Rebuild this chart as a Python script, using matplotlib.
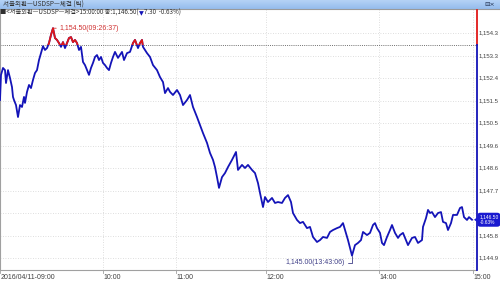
import matplotlib
matplotlib.use("Agg")
import matplotlib.pyplot as plt
from matplotlib.patches import Rectangle, FancyBboxPatch, Polygon
import numpy as np

# ---- data ----
tick_no = [0, 10, 30, 50, 60, 80, 100, 120, 130, 140, 160, 180, 200, 220, 240, 250, 270, 290, 310, 330,
           350, 370, 390, 410, 430, 450, 470, 490, 510, 530, 550, 570, 590, 610, 630, 650, 670, 690, 710, 730,
           750, 770, 790, 810, 830, 850, 870, 890, 910, 930, 950, 970, 990, 1010, 1030, 1050, 1070, 1090, 1110, 1130,
           1150, 1180,
           1220, 1240, 1270, 1300, 1330, 1350, 1380, 1400, 1420, 1430, 1470, 1500, 1530, 1570, 1600, 1630, 1650, 1680,
           1700, 1730, 1770, 1800, 1830, 1870, 1900, 1930, 1970, 2000, 2030, 2070, 2100, 2130, 2150, 2170, 2190, 2220,
           2250, 2280, 2320, 2360,
           2380, 2420, 2450, 2480, 2520, 2550, 2580, 2600, 2630, 2650, 2680, 2720, 2750, 2780, 2820, 2850, 2880, 2910,
           2930, 2970, 3000, 3030, 3070, 3100, 3130, 3170, 3200, 3230, 3270, 3300, 3330, 3370, 3400, 3430, 3450, 3480,
           3510, 3520,
           3550, 3580, 3610, 3630, 3670, 3700, 3730, 3750, 3770, 3800, 3820, 3840, 3870, 3900, 3920, 3950, 3980, 4000,
           4030, 4060, 4080, 4120, 4150, 4180, 4220, 4230, 4260, 4280, 4300, 4320, 4350, 4380, 4410, 4430, 4460, 4480,
           4510, 4530, 4570, 4600, 4620, 4640, 4670, 4690, 4720]
price = [1151.50, 1152.55, 1152.84, 1152.75, 1152.21, 1152.75, 1152.42, 1152.04, 1151.63, 1151.50, 1151.29, 1150.79,
         1151.29, 1151.21, 1151.63, 1151.38, 1151.84, 1152.13, 1152.00, 1152.34, 1152.63, 1152.75, 1153.17, 1153.46,
         1153.75, 1153.59, 1153.67, 1153.88, 1154.22, 1154.50, 1154.09, 1154.01, 1153.88, 1153.72, 1153.92, 1153.67,
         1153.88, 1154.09, 1154.13, 1153.92, 1154.01, 1153.88, 1153.59, 1153.72, 1153.09, 1152.96, 1152.75, 1152.55,
         1152.84, 1153.05, 1153.30, 1153.38, 1153.17, 1153.30, 1153.05, 1152.96, 1152.84, 1152.75, 1153.05, 1153.30,
         1153.51, 1153.26,
         1153.51, 1153.17, 1153.46, 1153.51, 1153.88, 1154.01, 1153.67, 1153.88, 1154.01, 1153.72, 1153.46, 1153.30,
         1152.96, 1152.75, 1152.46, 1152.25, 1151.79, 1152.00, 1151.84, 1151.71, 1151.92, 1151.71, 1151.29, 1151.50,
         1151.71, 1151.21, 1150.79, 1150.46, 1150.12, 1149.71, 1149.29, 1149.00, 1148.70, 1148.28, 1147.83, 1148.28,
         1148.45, 1148.70, 1149.00, 1149.33,
         1148.58, 1148.79, 1148.66, 1148.79, 1148.58, 1148.45, 1148.03, 1147.62, 1147.03, 1147.45, 1147.24, 1147.41,
         1147.20, 1147.24, 1147.20, 1147.41, 1147.53, 1147.24, 1146.78, 1146.49, 1146.36, 1146.41, 1146.15, 1146.20,
         1145.78, 1145.57, 1145.65, 1145.78, 1145.74, 1145.99, 1146.07, 1146.15, 1146.20, 1146.36, 1146.07, 1145.65,
         1145.15, 1145.00,
         1145.44, 1145.53, 1145.65, 1145.99, 1145.86, 1145.95, 1146.28, 1146.36, 1146.15, 1145.95, 1145.53, 1145.44,
         1145.78, 1146.07, 1146.28, 1145.95, 1145.74, 1145.86, 1145.95, 1145.65, 1145.44, 1145.74, 1145.78, 1145.53,
         1145.65, 1146.20, 1146.57, 1146.91, 1146.78, 1146.82, 1146.61, 1146.78, 1146.82, 1146.41, 1146.36, 1146.07,
         1146.36, 1146.70, 1146.70, 1146.99, 1147.03, 1146.61, 1146.49, 1146.61, 1146.50]

prev_close = 1153.80
last_price = 1146.50
time_ticks = [0, 1030, 1760, 2660, 3790, 4730]
time_labels = ["2016/04/11-09:00", "10:00", "11:00", "12:00", "14:00", "15:00"]
y_ticks = [1154.30, 1153.36, 1152.42, 1151.48, 1150.54, 1149.60, 1148.66, 1147.72, 1146.78, 1145.84, 1144.90]
y_labels = ["1,154.3", "1,153.3", "1,152.4", "1,151.5", "1,150.5", "1,149.6", "1,148.6",
            "1,147.7", "1,146.7", "1,145.8", "1,144.9"]
title_text = "서울외환—USDSP—체결 (틱)"
info_a = "■<서울외환—USDSP—체결>15:00:00 종:1,146.50("
info_b = "▼"
info_c = "7.30  -0.63%)"
max_label = "1,154.50(09:26:37)"
min_label = "1,145.00(13:43:06)"
box_lines = "1,146.50\n-0.63%"

BLUE = "#1414b8"
RED = "#e01818"
TXT = "#404040"
KFONT = ["Noto Sans CJK KR", "DejaVu Sans"]
NFONT = ["Liberation Sans Narrow", "Liberation Sans", "DejaVu Sans"]

W, H = 500, 284
fig = plt.figure(figsize=(W / 100, H / 100), dpi=100)
fig.patch.set_facecolor("white")

# title bar
bar = fig.add_axes([0, 1 - 9 / H, 1, 9 / H])
bar.imshow(np.linspace(0, 1, 10).reshape(-1, 1), aspect="auto",
           cmap=matplotlib.colors.LinearSegmentedColormap.from_list("tb", ["#b4d2f6", "#96bdee"]),
           extent=[0, 1, 0, 1])
bar.set_xlim(0, 1); bar.set_ylim(0, 1); bar.axis("off")
bar.text(0.006, 0.5, title_text, fontsize=4.7, family=KFONT, color="#303030", va="center", ha="left")
bar.text(0.99, 0.5, "⊟×", fontsize=4.6, family=["DejaVu Sans"], color="#203050", va="center", ha="right")
fig.add_artist(plt.Line2D([0, 1], [1 - 9.3 / H, 1 - 9.3 / H], color="#9a9a9a", lw=0.8))

# main axes
x1 = 476
ax = fig.add_axes([0, (H - 270) / H, x1 / W, (270 - 9) / H])
ppu = 23.94
ymax = 1154.30 + 24 / ppu
ymin = 1154.30 - 237 / ppu
ax.set_ylim(ymin, ymax)
ax.set_xlim(0, 4760)
ax.set_facecolor("white")
for s in ["top", "right"]:
    ax.spines[s].set_visible(False)
ax.spines["left"].set_color("#a0a0a0")
ax.spines["bottom"].set_color("#a0a0a0")
ax.set_xticks([])
ax.set_yticks([])

for yv in y_ticks:
    ax.axhline(yv, color="#d4d4d4", lw=0.6, ls=(0, (1, 2)), zorder=1)
for xv in time_ticks[1:]:
    ax.axvline(xv, color="#d4d4d4", lw=0.6, ls=(0, (1, 2)), zorder=1)
ax.axhline(prev_close, color="#707070", lw=0.7, ls=(0, (1, 1.2)), zorder=1.5)

ax.plot(tick_no, price, color=BLUE, lw=1.3, zorder=3)
red_line, = ax.plot(tick_no, price, color=RED, lw=1.3, zorder=4)
clip = Rectangle((0, prev_close), 4760, 10, transform=ax.transData)
red_line.set_clip_path(clip)

# max / min annotations
imax = int(np.argmax(price))
imin = int(np.argmin(price))
ax.annotate(max_label, xy=(tick_no[imax], price[imax]), xytext=(6, 0), textcoords="offset pixels",
            fontsize=5, family=NFONT, color="#d03030", va="center", ha="left",
            arrowprops=dict(arrowstyle="-", color="#d03030", lw=0.6, shrinkA=0, shrinkB=0))
ax.annotate(min_label, xy=(tick_no[imin], price[imin]), xytext=(-7, -7), textcoords="offset pixels",
            fontsize=5, family=NFONT, color="#404088", va="center", ha="right",
            arrowprops=dict(arrowstyle="-", color="#404088", lw=0.6, shrinkA=0, shrinkB=0,
                            connectionstyle="angle,angleA=0,angleB=90,rad=0"))

# info line
yinfo = 1 - 15 / H
t1 = fig.text(0.0, yinfo, info_a, fontsize=4.5, family=KFONT, color="#303030", va="baseline", ha="left")
t2 = fig.text(0, 0, info_b, fontsize=4.5, family=["DejaVu Sans"], color=BLUE, va="baseline", ha="left")
t3 = fig.text(0, 0, info_c, fontsize=4.5, family=KFONT, color="#303030", va="baseline", ha="left")
fig.canvas.draw()
r = fig.canvas.get_renderer()
bb1 = t1.get_window_extent(r)
t2.set_position(((bb1.x1 + 0.5) / W, yinfo))
fig.canvas.draw()
bb2 = t2.get_window_extent(r)
t3.set_position(((bb2.x1 + 0.5) / W, yinfo))

# right axis: vertical colored line and labels
def ypix(v):
    return (v - ymin) / (ymax - ymin) * ((270 - 9) / H) + (H - 270) / H

def fit_right(txt, limit=498.5):
    fig.canvas.draw()
    bb = txt.get_window_extent(fig.canvas.get_renderer())
    if bb.x1 > limit:
        avail = limit - bb.x0
        txt.set_fontsize(txt.get_fontsize() * avail / bb.width)

yc = ypix(last_price)
xr = (x1 + 0.8) / W
fig.add_artist(plt.Line2D([xr, xr], [ypix(prev_close), 1 - 9.5 / H], color=RED, lw=1.3))
fig.add_artist(plt.Line2D([xr, xr], [(H - 270) / H, ypix(prev_close)], color=BLUE, lw=1.3))
ylabel_texts = []
for yv, lab in zip(y_ticks, y_labels):
    yf = ypix(yv)
    if abs(yf - yc) * H < 9:
        continue  # hidden behind the current-price box
    ylabel_texts.append(fig.text(478.3 / W, yf, lab, fontsize=5, family=NFONT, color=TXT, va="center", ha="left"))
fit_right(ylabel_texts[0])
for t in ylabel_texts[1:]:
    t.set_fontsize(ylabel_texts[0].get_fontsize())

# current price box
box = FancyBboxPatch((477.5 / W, yc - 7.0 / H), 22.5 / W, 14 / H, boxstyle="round,pad=0,rounding_size=0.006",
                     transform=fig.transFigure, facecolor="#1a1ad0", edgecolor="none", zorder=5)
fig.add_artist(box)
tri = Polygon([[474 / W, yc], [478 / W, yc + 3 / H], [478 / W, yc - 3 / H]], closed=True,
              transform=fig.transFigure, facecolor="#1a1ad0", edgecolor="none", zorder=5)
fig.add_artist(tri)
bt = fig.text(479.3 / W, yc, box_lines, fontsize=4.4, family=NFONT, color="white", va="center", ha="left",
              linespacing=1.0, zorder=6)
fit_right(bt)

# x labels
for xv, lab in zip(time_ticks, time_labels):
    xf = xv / 4760 * (x1 / W)
    t = fig.text(xf + 0.5 / W, 1 - 277.5 / H, lab, fontsize=5, family=NFONT, color=TXT, va="center", ha="left")
    fig.add_artist(plt.Line2D([xf, xf], [(H - 270) / H, (H - 272.5) / H], color="#a0a0a0", lw=0.6))
fit_right(t)

fig.savefig("out.png", dpi=100, facecolor="white")
